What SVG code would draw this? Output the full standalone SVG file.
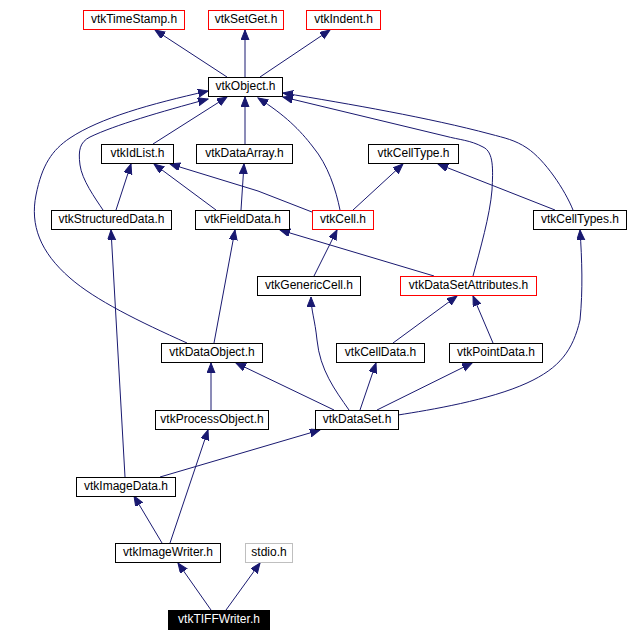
<svg xmlns="http://www.w3.org/2000/svg" width="629" height="642" viewBox="0 0 629 642">
<style>
.n rect{fill:#fff;stroke:#000;stroke-width:1}
.n.r rect{stroke:#ff0000}
.n.g rect{stroke:#bfbfbf}
.n.k rect{fill:#000;stroke:#000}
.n text{font-family:"Liberation Sans",Arial,sans-serif;font-size:12px;fill:#000;text-anchor:middle}
.n.k text{fill:#fff}
#edges path{fill:none;stroke:#191970;stroke-width:1;marker-end:url(#ah)}
</style>
<defs>
<marker id="ah" markerUnits="userSpaceOnUse" markerWidth="11" markerHeight="9" refX="10" refY="4" orient="auto">
<path d="M0,0 L10,4 L0,8 z" fill="#191970" stroke="#191970" stroke-width="1"/>
</marker>
</defs>
<rect width="629" height="642" fill="#fff"/>
<g id="edges">
<path d="M227,77 L155,30"/>
<path d="M245,77 L245,30"/>
<path d="M260,77 L330,30"/>
<path d="M153,144 L227,97"/>
<path d="M245,144 L245,97"/>
<path d="M187,343 C140,322 95,300 70,278 C40,252 30,225 36,195 C42,165 52,150 70,138 C100,118 150,104 208,91"/>
<path d="M103,210 C95,198 82,180 80,165 C78,150 80,142 90,137 C115,125 160,112 208,99"/>
<path d="M116,210 L131,164"/>
<path d="M216,210 L154,164"/>
<path d="M312,212 L258,191 L170,164"/>
<path d="M241,210 L244,164"/>
<path d="M340,210 C336,190 328,165 313,147 C300,130 285,115 258,98"/>
<path d="M353,210 L403,164"/>
<path d="M555,210 L438,164"/>
<path d="M573,210 C565,190 545,160 527,148 C515,140 505,138 490,134 C430,118 350,104 283,93"/>
<path d="M473,276 C480,250 490,215 492,190 C493,170 494,152 483,147 C470,140 460,140 445,136 L283,97"/>
<path d="M434,276 L280,230"/>
<path d="M314,276 L337,230"/>
<path d="M214,343 L235,230"/>
<path d="M393,343 L457,296"/>
<path d="M493,343 L473,296"/>
<path d="M349,410 C335,390 320,370 317,340 C315,320 311,310 311,297"/>
<path d="M334,410 L236,363"/>
<path d="M360,410 L376,363"/>
<path d="M377,410 L472,363"/>
<path d="M398,415 C430,410 490,400 527,383 C560,368 573,350 580,320 C583,290 582,260 580,230"/>
<path d="M211,410 L211,363"/>
<path d="M160,477 L320,430"/>
<path d="M125,477 L111,230"/>
<path d="M162,543 L134,496"/>
<path d="M170,543 L208,430"/>
<path d="M211,610 L178,563"/>
<path d="M226,610 L260,563"/>
</g>
<g id="vtkTimeStamp" class="n r"><rect x="83.5" y="10.5" width="101" height="19"/><text x="134" y="23">vtkTimeStamp.h</text></g>
<g id="vtkSetGet" class="n r"><rect x="208.5" y="10.5" width="75" height="19"/><text x="246" y="23">vtkSetGet.h</text></g>
<g id="vtkIndent" class="n r"><rect x="306.5" y="10.5" width="74" height="19"/><text x="343.5" y="23">vtkIndent.h</text></g>
<g id="vtkObject" class="n"><rect x="208.5" y="77.5" width="74" height="19"/><text x="245.5" y="90">vtkObject.h</text></g>
<g id="vtkIdList" class="n"><rect x="101.5" y="144.5" width="72" height="19"/><text x="137.5" y="157">vtkIdList.h</text></g>
<g id="vtkDataArray" class="n"><rect x="196.5" y="144.5" width="96" height="19"/><text x="244.5" y="157">vtkDataArray.h</text></g>
<g id="vtkCellType" class="n"><rect x="368.5" y="144.5" width="90" height="19"/><text x="413.5" y="157">vtkCellType.h</text></g>
<g id="vtkStructuredData" class="n"><rect x="51.5" y="210.5" width="120" height="19"/><text x="111.5" y="223">vtkStructuredData.h</text></g>
<g id="vtkFieldData" class="n"><rect x="195.5" y="210.5" width="94" height="19"/><text x="242.5" y="223">vtkFieldData.h</text></g>
<g id="vtkCell" class="n r"><rect x="312.5" y="210.5" width="61" height="19"/><text x="343" y="223">vtkCell.h</text></g>
<g id="vtkCellTypes" class="n"><rect x="533.5" y="210.5" width="93" height="19"/><text x="580" y="223">vtkCellTypes.h</text></g>
<g id="vtkGenericCell" class="n"><rect x="257.5" y="276.5" width="103" height="19"/><text x="309" y="289">vtkGenericCell.h</text></g>
<g id="vtkDataSetAttributes" class="n r"><rect x="400.5" y="276.5" width="136" height="19"/><text x="468.5" y="289">vtkDataSetAttributes.h</text></g>
<g id="vtkDataObject" class="n"><rect x="161.5" y="343.5" width="101" height="19"/><text x="212" y="356">vtkDataObject.h</text></g>
<g id="vtkCellData" class="n"><rect x="336.5" y="343.5" width="88" height="19"/><text x="380.5" y="356">vtkCellData.h</text></g>
<g id="vtkPointData" class="n"><rect x="449.5" y="343.5" width="93" height="19"/><text x="496" y="356">vtkPointData.h</text></g>
<g id="vtkProcessObject" class="n"><rect x="155.5" y="410.5" width="113" height="19"/><text x="212" y="423">vtkProcessObject.h</text></g>
<g id="vtkDataSet" class="n"><rect x="315.5" y="410.5" width="83" height="19"/><text x="357" y="423">vtkDataSet.h</text></g>
<g id="vtkImageData" class="n"><rect x="76.5" y="477.5" width="99" height="19"/><text x="126" y="490">vtkImageData.h</text></g>
<g id="vtkImageWriter" class="n"><rect x="115.5" y="543.5" width="105" height="19"/><text x="168" y="556">vtkImageWriter.h</text></g>
<g id="stdio" class="n g"><rect x="245.5" y="543.5" width="47" height="19"/><text x="269" y="556">stdio.h</text></g>
<g id="vtkTIFFWriter" class="n k"><rect x="168.5" y="610.5" width="101" height="19"/><text x="219" y="623">vtkTIFFWriter.h</text></g>
</svg>
